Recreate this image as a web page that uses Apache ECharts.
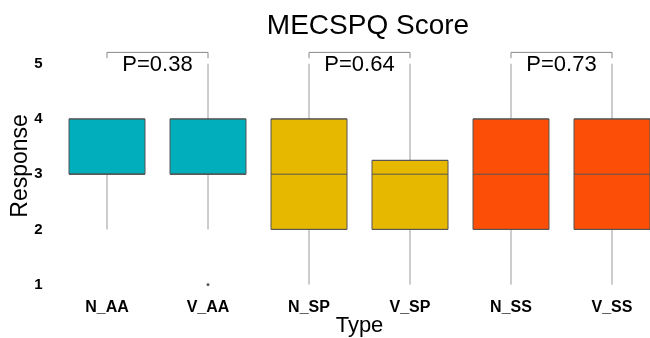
<!DOCTYPE html>
<html><head><meta charset="utf-8">
<script src="https://cdn.jsdelivr.net/npm/echarts@6/dist/echarts.min.js"></script>
<style>html,body{margin:0;padding:0;background:#fff}#c{width:650px;height:338px}</style>
</head><body><div id="c"></div>
<script>
const categories = ['N_AA','V_AA','N_SP','V_SP','N_SS','V_SS'];
const mins    = [2, 2, 1, 1, 1, 1];
const q1s     = [3, 3, 2, 2, 2, 2];
const medians = [3, 3, 3, 3, 3, 3];
const q3s     = [4, 4, 4, 3.25, 4, 4];
const maxs    = [4, 5, 5, 5, 5, 5];
const boxColors = ['#00AFBB','#00AFBB','#E7B800','#E7B800','#FC4E07','#FC4E07'];
const outliers = [['V_AA', 1]];
const pPairs = [[0, 1], [2, 3], [4, 5]];
const pLabels = ['P=0.38', 'P=0.64', 'P=0.73'];
const yTicks = [1, 2, 3, 4, 5];

const chart = echarts.init(document.getElementById('c'), null, {renderer: 'canvas'});
const FONT = 'Liberation Sans, Arial, sans-serif';

chart.setOption({
  animation: false,
  backgroundColor: '#fff',
  title: {
    text: 'MECSPQ Score',
    left: 363, top: 7, textAlign: 'center',
    textStyle: {fontFamily: FONT, fontSize: 28, fontWeight: 'normal', color: '#000'}
  },
  grid: {left: 56.5, right: -12.5, top: 36.1, height: 259.6, outerBoundsMode: 'none', containLabel: false},
  xAxis: {
    type: 'category', data: categories, boundaryGap: true,
    axisLine: {show: false}, axisTick: {show: false}, splitLine: {show: false},
    axisLabel: {fontFamily: FONT, fontSize: 16, fontWeight: 'bold', color: '#000', margin: 4},
    name: 'Type', nameLocation: 'middle', nameGap: 19, nameMoveOverlap: false,
    nameTextStyle: {fontFamily: FONT, fontSize: 22, color: '#000'}
  },
  yAxis: {
    type: 'value', min: 0.8, max: 5.5,
    axisLine: {show: false}, axisTick: {show: false}, splitLine: {show: false},
    axisLabel: {customValues: yTicks, fontFamily: FONT, fontSize: 15, fontWeight: 'bold', color: '#000', margin: 14},
    name: 'Response', nameLocation: 'middle', nameGap: 24, nameMoveOverlap: false,
    nameTextStyle: {fontFamily: FONT, fontSize: 23, color: '#000'}
  },
  series: [
    {
      type: 'custom', name: 'whiskers', z: 1,
      data: categories.map((c, i) => [i, mins[i], q1s[i], q3s[i], maxs[i]]),
      renderItem: function (params, api) {
        const i = api.value(0);
        const a = api.coord([i, api.value(4)]), b = api.coord([i, api.value(3)]);
        const c = api.coord([i, api.value(2)]), d = api.coord([i, api.value(1)]);
        const st = {stroke: '#9a9a9a', lineWidth: 1};
        return {type: 'group', children: [
          {type: 'line', shape: {x1: a[0], y1: a[1], x2: b[0], y2: b[1]}, style: st},
          {type: 'line', shape: {x1: c[0], y1: c[1], x2: d[0], y2: d[1]}, style: st}
        ]};
      }
    },
    {
      type: 'boxplot', name: 'boxes', z: 2,
      boxWidth: [76, 76],
      itemStyle: {borderColor: '#555', borderWidth: 1},
      data: categories.map((c, i) => ({
        value: [q1s[i], q1s[i], medians[i], q3s[i], q3s[i]],
        itemStyle: {color: boxColors[i], borderColor: '#555'}
      }))
    },
    {
      type: 'scatter', name: 'outliers', z: 3,
      symbol: 'rect', symbolSize: 2.5,
      itemStyle: {color: '#222'},
      data: outliers
    },
    {
      type: 'custom', name: 'pvalues', z: 4,
      data: pPairs.map((p, k) => [p[0], p[1], k]),
      renderItem: function (params, api) {
        const a = api.value(0), b = api.value(1), k = api.value(2);
        const p1 = api.coord([a, 5.205]), p2 = api.coord([b, 5.205]);
        const t1 = api.coord([a, 5.1]), t2 = api.coord([b, 5.1]);
        const tt = api.coord([a, 4.98]);
        return {type: 'group', children: [
          {type: 'polyline', shape: {points: [t1, p1, p2, t2]}, style: {stroke: '#888', lineWidth: 1, fill: null}},
          {type: 'text', style: {text: pLabels[k], x: (p1[0] + p2[0]) / 2, y: tt[1],
            align: 'center', verticalAlign: 'middle', fill: '#000',
            font: '22px ' + FONT}}
        ]};
      }
    }
  ]
});
</script>
</body></html>
